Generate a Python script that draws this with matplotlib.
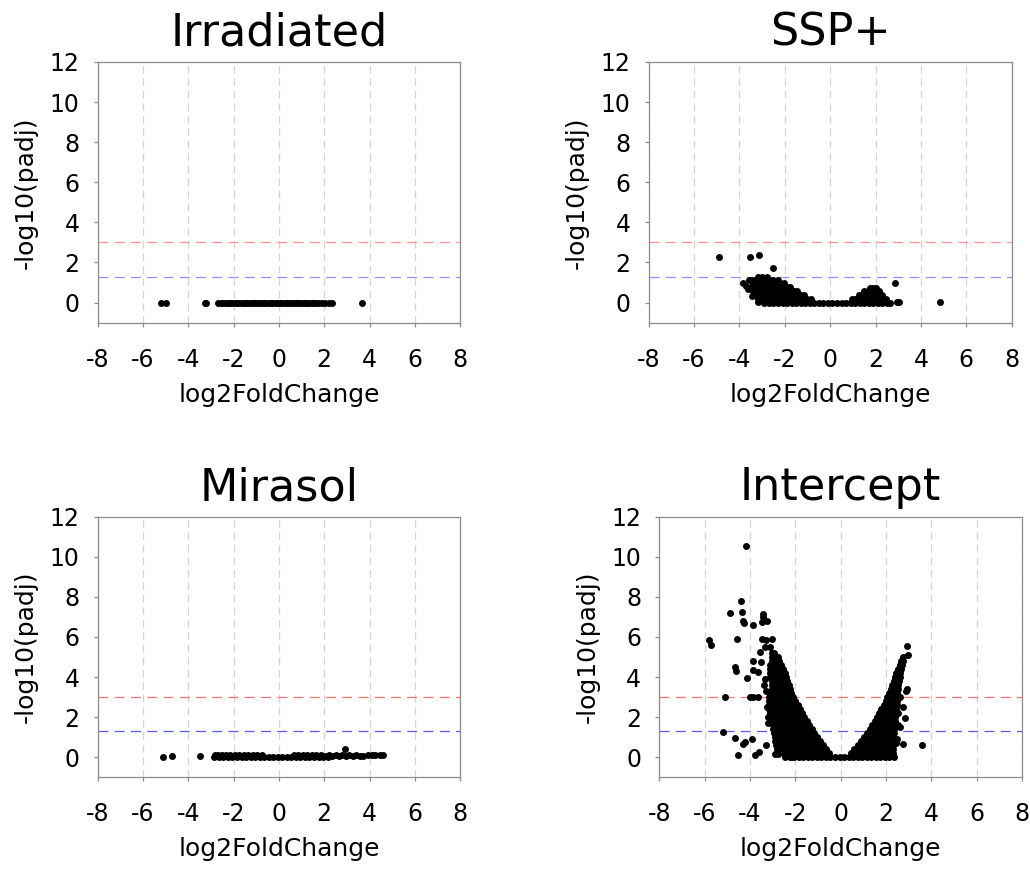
import matplotlib
matplotlib.use('Agg')
import matplotlib.pyplot as plt

plt.rcParams['font.family'] = ['DejaVu Sans']
plt.rcParams['axes.unicode_minus'] = False

# ---- data: (log2FoldChange, -log10(padj)) ----

irradiated_points = [
    (-5.22, 0.0), (-4.98, 0.0), (-3.28, 0.0), (-3.22, 0.0),
    (-2.67, 0.0), (-2.55, 0.0), (-2.45, 0.0), (-2.35, 0.0), (-2.25, 0.0),
    (-2.15, 0.0), (-2.05, 0.0), (-1.95, 0.0), (-1.85, 0.0), (-1.75, 0.0),
    (-1.65, 0.0), (-1.55, 0.0), (-1.45, 0.0), (-1.35, 0.0), (-1.25, 0.0),
    (-1.15, 0.0), (-1.05, 0.0), (-0.95, 0.0), (-0.85, 0.0), (-0.75, 0.0),
    (-0.65, 0.0), (-0.55, 0.0), (-0.45, 0.0), (-0.35, 0.0), (-0.25, 0.0),
    (-0.15, 0.0), (-0.05, 0.0), (0.05, 0.0), (0.15, 0.0), (0.25, 0.0),
    (0.35, 0.0), (0.45, 0.0), (0.55, 0.0), (0.65, 0.0), (0.75, 0.0),
    (0.85, 0.0), (0.95, 0.0), (1.05, 0.0), (1.15, 0.0), (1.25, 0.0),
    (1.35, 0.0), (1.45, 0.0), (1.55, 0.0), (1.65, 0.0), (1.75, 0.0),
    (1.89, 0.0), (2.04, 0.0), (2.19, 0.0), (2.34, 0.0), (3.69, 0.0),
]

ssp_points = [
    # outliers
    (-4.89, 2.28), (-3.54, 2.28), (-3.14, 2.38), (-2.54, 1.73),
    (2.86, 0.96), (2.95, 0.02), (3.02, 0.02), (4.84, 0.02),
    (-3.83, 0.97), (-3.72, 0.82), (-3.62, 0.7), (-3.6, 1.15), (-3.45, 0.35),
    # base
    (-3.17, 0.02), (-2.9, 0.0), (-2.7, 0.0), (-2.5, 0.0), (-2.3, 0.0), (-2.1, 0.0),
    (-1.9, 0.0), (-1.7, 0.0), (-1.5, 0.0), (-1.3, 0.0), (-1.1, 0.0), (-0.9, 0.0),
    (-0.7, 0.0), (-0.5, 0.0), (-0.3, 0.0), (-0.1, 0.0), (0.1, 0.0), (0.3, 0.0),
    (0.5, 0.0), (0.7, 0.0), (0.9, 0.0), (1.1, 0.0), (1.3, 0.0), (1.5, 0.0),
    (1.7, 0.0), (1.9, 0.0), (2.1, 0.0), (2.3, 0.0), (2.5, 0.0), (2.65, 0.0),
    # left cloud
    (-3.2, 0.2), (-3.0, 0.2), (-2.8, 0.2), (-2.6, 0.2), (-2.4, 0.2), (-2.2, 0.2),
    (-2.0, 0.2), (-1.8, 0.2), (-1.6, 0.2), (-1.4, 0.2), (-1.2, 0.2), (-1.0, 0.2),
    (-0.85, 0.2),
    (-3.3, 0.4), (-3.1, 0.4), (-2.9, 0.4), (-2.7, 0.4), (-2.5, 0.4), (-2.3, 0.4),
    (-2.1, 0.4), (-1.9, 0.4), (-1.7, 0.4), (-1.5, 0.4), (-1.3, 0.4), (-1.15, 0.4),
    (-3.4, 0.6), (-3.2, 0.6), (-3.0, 0.6), (-2.8, 0.6), (-2.6, 0.6), (-2.4, 0.6),
    (-2.2, 0.6), (-2.0, 0.6), (-1.8, 0.6), (-1.6, 0.6), (-1.45, 0.6),
    (-3.5, 0.8), (-3.3, 0.8), (-3.1, 0.8), (-2.9, 0.8), (-2.7, 0.8), (-2.5, 0.8),
    (-2.3, 0.8), (-2.1, 0.8), (-1.9, 0.8), (-1.75, 0.8),
    (-3.4, 1.0), (-3.2, 1.0), (-3.0, 1.0), (-2.8, 1.0), (-2.6, 1.0), (-2.4, 1.0),
    (-2.2, 1.0), (-2.05, 1.0),
    (-3.5, 1.15), (-3.3, 1.15), (-3.1, 1.15), (-2.9, 1.15), (-2.7, 1.15),
    (-2.5, 1.15), (-2.3, 1.15),
    (-3.2, 1.3), (-3.0, 1.3), (-2.8, 1.3),
    # right hump
    (0.95, 0.2), (1.1, 0.2), (1.3, 0.2), (1.5, 0.2), (1.7, 0.2), (1.9, 0.2),
    (2.1, 0.2), (2.3, 0.2), (2.45, 0.2),
    (1.25, 0.4), (1.4, 0.4), (1.6, 0.4), (1.8, 0.4), (2.0, 0.4), (2.2, 0.4), (2.3, 0.4),
    (1.5, 0.6), (1.65, 0.6), (1.85, 0.6), (2.05, 0.6), (2.15, 0.6),
    (1.75, 0.75), (1.9, 0.75), (2.0, 0.75),
]

mirasol_points = [
    (-5.1, 0.0), (-4.7, 0.08), (-3.48, 0.08),
    (-2.85, 0.02), (-2.65, 0.02), (-2.45, 0.02), (-2.25, 0.02), (-2.05, 0.02),
    (-1.85, 0.02), (-1.65, 0.02), (-1.45, 0.02), (-1.25, 0.02), (-1.05, 0.02),
    (-0.85, 0.02), (-0.65, 0.02), (-0.45, 0.02), (-0.25, 0.02), (-0.05, 0.02),
    (0.15, 0.02), (0.35, 0.02), (0.55, 0.02), (0.75, 0.02), (0.95, 0.02),
    (1.15, 0.02), (1.35, 0.02), (1.55, 0.02), (1.75, 0.02), (1.95, 0.02), (2.15, 0.02),
    (-2.82, 0.1), (-2.67, 0.12), (-2.52, 0.12), (-2.35, 0.12), (-2.15, 0.12),
    (-1.95, 0.12), (-1.75, 0.12), (-1.55, 0.12), (-1.35, 0.12), (-1.15, 0.12),
    (-0.95, 0.12), (-0.75, 0.12),
    (0.65, 0.1), (0.85, 0.12), (1.05, 0.12), (1.25, 0.12), (1.45, 0.12),
    (1.65, 0.12), (1.85, 0.12),
    (2.05, 0.08), (2.2, 0.1), (2.35, 0.06), (2.5, 0.1), (2.65, 0.07), (2.8, 0.1),
    (2.92, 0.42), (2.95, 0.08), (3.1, 0.1), (3.25, 0.06), (3.4, 0.1), (3.58, 0.08),
    (3.72, 0.06), (3.95, 0.1), (4.1, 0.12), (4.25, 0.1), (4.45, 0.1), (4.6, 0.1),
]

intercept_outliers = [
    (-4.18, 10.56), (-4.41, 7.78), (-4.88, 7.18), (-4.37, 7.27), (-4.29, 6.78),
    (-4.26, 6.68), (-3.85, 6.62), (-3.44, 7.15), (-3.41, 6.98), (-3.49, 6.73),
    (-3.26, 6.78), (-5.81, 5.87), (-5.74, 5.62), (-4.59, 5.9), (-3.49, 5.88),
    (-3.29, 5.85), (-3.03, 5.88), (-3.34, 5.52), (-3.12, 5.52), (-3.56, 5.24),
    (-3.85, 4.79), (-3.51, 4.77), (-4.66, 4.49), (-4.62, 4.29), (-3.85, 4.36),
    (-3.63, 4.24), (-4.12, 3.96), (-3.34, 3.9), (-3.38, 3.6), (-3.3, 3.3),
    (-5.1, 2.99), (-4.0, 2.99), (-3.88, 2.99), (-3.63, 2.99),
    (-3.26, 2.5), (-3.22, 2.0), (-3.2, 1.7),
    (-5.18, 1.25), (-4.66, 0.96), (-3.9, 0.91), (-4.22, 0.75), (-4.32, 0.66),
    (-4.54, 0.13), (-3.76, 0.13), (-3.59, 0.25), (-3.29, 0.6),
    (-2.9, 0.15), (-2.75, 0.15), (-2.55, 0.25), (-2.2, 0.0),
    (3.6, 0.6), (2.91, 5.55), (2.99, 5.12), (2.72, 4.82), (2.94, 3.41),
    (2.87, 3.33), (2.62, 2.99), (2.74, 2.49), (2.84, 1.96), (2.62, 1.5),
    (2.76, 0.67), (2.55, 2.2), (2.5, 0.9), (2.45, 0.7), (2.55, 1.6),
]

intercept_base = [
    (-2.45, 0.0), (-2.25, 0.0), (-2.05, 0.0), (-1.85, 0.0), (-1.65, 0.0),
    (-1.45, 0.0), (-1.25, 0.0), (-1.05, 0.0), (-0.85, 0.0), (-0.65, 0.0),
    (-0.45, 0.0), (-0.25, 0.0), (-0.05, 0.0), (0.15, 0.0), (0.35, 0.0),
    (0.55, 0.0), (0.75, 0.0), (0.95, 0.0), (1.15, 0.0), (1.35, 0.0),
    (1.55, 0.0), (1.75, 0.0), (1.95, 0.0), (2.15, 0.0), (2.35, 0.0),
]

intercept_left_arm = [
    (-2.7, 0.2), (-2.5, 0.2), (-2.3, 0.2), (-2.1, 0.2), (-1.9, 0.2), (-1.7, 0.2),
    (-1.5, 0.2), (-1.3, 0.2), (-1.1, 0.2), (-0.9, 0.2), (-0.7, 0.2), (-0.5, 0.2),
    (-2.8, 0.4), (-2.6, 0.4), (-2.4, 0.4), (-2.2, 0.4), (-2.0, 0.4), (-1.8, 0.4),
    (-1.6, 0.4), (-1.4, 0.4), (-1.2, 0.4), (-1.0, 0.4), (-0.8, 0.4), (-0.65, 0.4),
    (-2.85, 0.6), (-2.65, 0.6), (-2.45, 0.6), (-2.25, 0.6), (-2.05, 0.6),
    (-1.85, 0.6), (-1.65, 0.6), (-1.45, 0.6), (-1.25, 0.6), (-1.05, 0.6), (-0.8, 0.6),
    (-2.9, 0.8), (-2.7, 0.8), (-2.5, 0.8), (-2.3, 0.8), (-2.1, 0.8), (-1.9, 0.8),
    (-1.7, 0.8), (-1.5, 0.8), (-1.3, 0.8), (-1.1, 0.8), (-0.92, 0.8),
    (-2.9, 1.0), (-2.75, 1.0), (-2.55, 1.0), (-2.35, 1.0), (-2.15, 1.0),
    (-1.95, 1.0), (-1.75, 1.0), (-1.55, 1.0), (-1.35, 1.0), (-1.2, 1.0), (-1.05, 1.0),
    (-2.95, 1.2), (-2.8, 1.2), (-2.6, 1.2), (-2.4, 1.2), (-2.2, 1.2), (-2.0, 1.2),
    (-1.8, 1.2), (-1.6, 1.2), (-1.4, 1.2), (-1.17, 1.2),
    (-2.97, 1.4), (-2.85, 1.4), (-2.65, 1.4), (-2.45, 1.4), (-2.25, 1.4),
    (-2.05, 1.4), (-1.85, 1.4), (-1.65, 1.4), (-1.45, 1.4), (-1.28, 1.4),
    (-3.0, 1.6), (-2.9, 1.6), (-2.7, 1.6), (-2.5, 1.6), (-2.3, 1.6), (-2.1, 1.6),
    (-1.9, 1.6), (-1.7, 1.6), (-1.5, 1.6), (-1.4, 1.6),
    (-3.05, 1.8), (-2.85, 1.8), (-2.65, 1.8), (-2.45, 1.8), (-2.25, 1.8),
    (-2.05, 1.8), (-1.85, 1.8), (-1.65, 1.8), (-1.5, 1.8),
    (-3.1, 2.0), (-2.9, 2.0), (-2.7, 2.0), (-2.5, 2.0), (-2.3, 2.0), (-2.1, 2.0),
    (-1.9, 2.0), (-1.75, 2.0), (-1.6, 2.0),
    (-3.12, 2.2), (-2.95, 2.2), (-2.75, 2.2), (-2.55, 2.2), (-2.35, 2.2),
    (-2.15, 2.2), (-1.95, 2.2), (-1.7, 2.2),
    (-3.15, 2.4), (-3.0, 2.4), (-2.8, 2.4), (-2.6, 2.4), (-2.4, 2.4), (-2.2, 2.4),
    (-2.0, 2.4), (-1.8, 2.4),
    (-3.15, 2.6), (-2.95, 2.6), (-2.75, 2.6), (-2.55, 2.6), (-2.35, 2.6),
    (-2.15, 2.6), (-1.9, 2.6),
    (-3.18, 2.8), (-3.0, 2.8), (-2.8, 2.8), (-2.6, 2.8), (-2.4, 2.8), (-2.2, 2.8),
    (-2.0, 2.8),
    (-3.18, 3.0), (-2.95, 3.0), (-2.75, 3.0), (-2.55, 3.0), (-2.35, 3.0), (-2.1, 3.0),
    (-3.1, 3.2), (-2.9, 3.2), (-2.7, 3.2), (-2.5, 3.2), (-2.3, 3.2), (-2.17, 3.2),
    (-3.05, 3.4), (-2.85, 3.4), (-2.65, 3.4), (-2.45, 3.4), (-2.24, 3.4),
    (-3.05, 3.6), (-2.9, 3.6), (-2.7, 3.6), (-2.5, 3.6), (-2.3, 3.6),
    (-3.04, 3.8), (-2.85, 3.8), (-2.65, 3.8), (-2.48, 3.8), (-2.35, 3.8),
    (-3.1, 4.0), (-2.9, 4.0), (-2.7, 4.0), (-2.55, 4.0), (-2.4, 4.0),
    (-3.1, 4.2), (-2.95, 4.2), (-2.75, 4.2), (-2.6, 4.2), (-2.47, 4.2),
    (-3.12, 4.4), (-2.95, 4.4), (-2.8, 4.4), (-2.65, 4.4), (-2.55, 4.4),
    (-3.1, 4.6), (-2.9, 4.6), (-2.75, 4.6), (-2.62, 4.6),
    (-3.05, 4.8), (-2.88, 4.8), (-2.72, 4.8),
    (-3.04, 5.0), (-2.9, 5.0), (-2.78, 5.0),
    (-3.05, 5.2), (-2.92, 5.2),
]

intercept_right_arm = [
    (0.45, 0.2), (0.6, 0.2), (0.8, 0.2), (1.0, 0.2), (1.2, 0.2), (1.4, 0.2),
    (1.6, 0.2), (1.8, 0.2), (2.0, 0.2), (2.2, 0.2), (2.3, 0.2),
    (0.6, 0.4), (0.7, 0.4), (0.9, 0.4), (1.1, 0.4), (1.3, 0.4), (1.5, 0.4),
    (1.7, 0.4), (1.9, 0.4), (2.1, 0.4), (2.3, 0.4),
    (0.75, 0.6), (0.9, 0.6), (1.1, 0.6), (1.3, 0.6), (1.5, 0.6), (1.7, 0.6),
    (1.9, 0.6), (2.1, 0.6), (2.3, 0.6),
    (0.9, 0.8), (1.0, 0.8), (1.2, 0.8), (1.4, 0.8), (1.6, 0.8), (1.8, 0.8),
    (2.0, 0.8), (2.2, 0.8), (2.32, 0.8),
    (1.03, 1.0), (1.15, 1.0), (1.35, 1.0), (1.55, 1.0), (1.75, 1.0), (1.95, 1.0),
    (2.15, 1.0), (2.33, 1.0),
    (1.16, 1.2), (1.3, 1.2), (1.5, 1.2), (1.7, 1.2), (1.9, 1.2), (2.1, 1.2),
    (2.3, 1.2), (2.35, 1.2),
    (1.28, 1.4), (1.4, 1.4), (1.6, 1.4), (1.8, 1.4), (2.0, 1.4), (2.2, 1.4), (2.35, 1.4),
    (1.4, 1.6), (1.55, 1.6), (1.75, 1.6), (1.95, 1.6), (2.15, 1.6), (2.37, 1.6),
    (1.5, 1.8), (1.65, 1.8), (1.85, 1.8), (2.05, 1.8), (2.25, 1.8), (2.39, 1.8),
    (1.6, 2.0), (1.75, 2.0), (1.95, 2.0), (2.15, 2.0), (2.35, 2.0), (2.41, 2.0),
    (1.7, 2.2), (1.85, 2.2), (2.05, 2.2), (2.25, 2.2), (2.43, 2.2),
    (1.8, 2.4), (1.95, 2.4), (2.15, 2.4), (2.35, 2.4), (2.45, 2.4),
    (1.9, 2.6), (2.05, 2.6), (2.25, 2.6), (2.47, 2.6),
    (1.98, 2.8), (2.15, 2.8), (2.35, 2.8), (2.48, 2.8),
    (2.06, 3.0), (2.25, 3.0), (2.42, 3.0), (2.49, 3.0),
    (2.13, 3.2), (2.3, 3.2), (2.5, 3.2),
    (2.2, 3.4), (2.37, 3.4), (2.52, 3.4),
    (2.27, 3.6), (2.42, 3.6), (2.55, 3.6),
    (2.34, 3.8), (2.48, 3.8), (2.57, 3.8),
    (2.4, 4.0), (2.6, 4.0),
    (2.46, 4.2), (2.64, 4.2),
    (2.52, 4.4), (2.68, 4.4),
    (2.6, 4.6), (2.72, 4.6),
    (2.68, 4.8), (2.76, 4.8),
    (2.74, 5.0),
]

intercept_points = intercept_base + intercept_left_arm + intercept_right_arm + intercept_outliers

titles = ['Irradiated', 'SSP+', 'Mirasol', 'Intercept']
panel_points = [irradiated_points, ssp_points, mirasol_points, intercept_points]
padj_cut = 3.0     # red dashed line
pval_cut = 1.3     # blue dashed line
red_colors = ['#ff9090', '#ff9090', '#ff7070', '#ff7070']
blue_colors = ['#9090ff', '#9090ff', '#5a5aff', '#5a5aff']

# axes rectangles in figure fractions [left, bottom, width, height]
axes_rects = [
    [0.0949, 0.6287, 0.3518, 0.3000],
    [0.6298, 0.6287, 0.3524, 0.3000],
    [0.0949, 0.1055, 0.3518, 0.2999],
    [0.6401, 0.1055, 0.3521, 0.2999],
]


def draw_volcano(ax, points, title, red, blue):
    """One volcano panel in the old Excel look"""
    lfc = [p[0] for p in points]
    logp = [p[1] for p in points]

    ax.set_xlim(-8, 8)
    ax.set_ylim(-1, 12)
    ax.set_xticks(range(-8, 9, 2))
    ax.set_yticks(range(0, 13, 2))

    ax.xaxis.grid(True, color='#d4d4d4', linewidth=0.9, linestyle=(0, (6, 4)), zorder=0)
    ax.set_axisbelow(True)

    ax.axhline(padj_cut, color=red, linewidth=0.9, linestyle=(0, (8, 5)), zorder=1)
    ax.axhline(pval_cut, color=blue, linewidth=0.9, linestyle=(0, (8, 5)), zorder=1)

    ax.plot(lfc, logp, 'o', color='black', markersize=5.0, markeredgewidth=0, zorder=3)

    for spine in ax.spines.values():
        spine.set_color('#8c8c8c')
        spine.set_linewidth(0.9)
    ax.tick_params(axis='both', colors='#8c8c8c', length=3, width=0.9,
                   labelcolor='black', labelsize=17)
    ax.tick_params(axis='x', pad=15)
    ax.tick_params(axis='y', pad=10)

    ax.set_title(title, fontsize=32, pad=12)
    ax.set_xlabel('log2FoldChange', fontsize=18)
    ax.set_ylabel('-log10(padj)', fontsize=18)
    ax.xaxis.set_label_coords(0.5, -0.23)
    ax.yaxis.set_label_coords(-0.165, 0.5)


fig = plt.figure(figsize=(10.3, 8.69), dpi=100)
for rect, pts, title, red, blue in zip(axes_rects, panel_points, titles, red_colors, blue_colors):
    ax = fig.add_axes(rect)
    draw_volcano(ax, pts, title, red, blue)

fig.savefig('out.png', dpi=100, facecolor='white')
